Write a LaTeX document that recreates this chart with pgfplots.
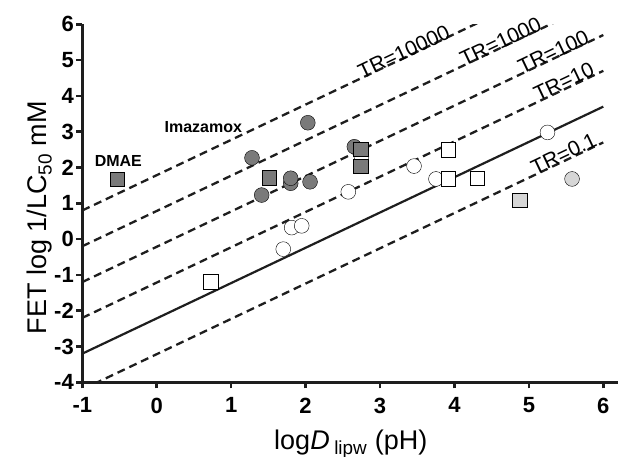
\documentclass[border=0pt]{standalone}
\usepackage{fontspec}
\setmainfont{Liberation Sans}
\usepackage{pgfplots}
\pgfplotsset{compat=1.18}
\definecolor{darkfill}{RGB}{122,122,122}
\definecolor{lightfill}{RGB}{214,214,214}
\definecolor{edge}{RGB}{30,30,30}
\begin{document}
\begin{tikzpicture}
\useasboundingbox (-82.3pt,-74.7pt) rectangle (536.7pt,382.3pt);
\begin{axis}[
  at={(0pt,0pt)}, anchor=south west,
  scale only axis, width=535.9pt, height=358pt,
  xmin=-1, xmax=6.2, ymin=-4, ymax=6,
  axis x line*=bottom, axis y line*=left,
  axis line style={line width=3pt, edge, -},
  xtick={-1,0,...,6}, ytick={-4,-3,...,6},
  tick align=outside, major tick length=6pt,
  tick style={line width=2.5pt, edge},
  /pgf/number format/assume math mode=true,
  ticklabel style={font=\bfseries\fontsize{22}{22}\selectfont},
  xticklabel style={yshift=-6pt},
  yticklabel style={xshift=1pt},
  xlabel={log\textit{D}\,\textsubscript{lipw} (pH)},
  ylabel={FET log 1/LC\textsubscript{50} mM},
  label style={font=\fontsize{27}{27}\selectfont},
  xlabel style={at={(axis description cs:0.501,0)}, anchor=base, yshift=-67pt},
  ylabel style={at={(axis description cs:-0.079,0.46)}, anchor=center},
  clip mode=individual,
  tr/.style={dash pattern=on 8pt off 5pt, line width=2.3pt, edge},
  mk/.style={only marks, mark options={line width=2.2pt, draw=edge}},
]
% regression line and TR lines
\addplot[line width=2.2pt, edge] coordinates {(-1,-3.2) (6,3.7)};
\addplot[tr] coordinates {(-1,-4.2) (6,2.7)};
\addplot[tr] coordinates {(-1,-2.2) (6,4.7)};
\addplot[tr] coordinates {(-1,-1.2) (6,5.7)};
\addplot[tr] coordinates {(-1,-0.2) (6,6.7)};
\addplot[tr] coordinates {(-1,0.8) (6,7.7)};
% open circles
\addplot[mk, mark=*, mark size=7.4pt, mark options={fill=white}] coordinates {
(2.75,2.30) (2.574,1.32) (3.457,2.04) (3.752,1.68) (1.813,0.32) (1.948,0.37) (1.70,-0.28) (5.25,2.98)};
% dark circles
\addplot[mk, mark=*, mark size=7.4pt, mark options={fill=darkfill}] coordinates {
(1.28,2.27) (1.41,1.23) (2.03,3.25) (2.655,2.58) (1.80,1.56) (1.80,1.70) (2.06,1.60)};
% light circle
\addplot[mk, mark=*, mark size=7.4pt, mark options={fill=lightfill}] coordinates {(5.58,1.68)};
% open squares
\addplot[mk, mark=square*, mark size=7.3pt, mark options={fill=white}] coordinates {
(0.725,-1.19) (3.917,2.49) (3.917,1.68) (4.307,1.70)};
% dark squares
\addplot[mk, mark=square*, mark size=7.3pt, mark options={fill=darkfill}] coordinates {
(-0.53,1.67) (1.51,1.72) (2.74,2.51) (2.74,2.04)};
% light square
\addplot[mk, mark=square*, mark size=7.3pt, mark options={fill=lightfill}] coordinates {(4.88,1.09)};
% labels
\node[font=\fontsize{21}{21}\selectfont, rotate=25.4, anchor=base, inner sep=0pt] at (axis cs:3.36,5.05) {TR=10000};
\node[font=\fontsize{21}{21}\selectfont, rotate=25.4, anchor=base, inner sep=0pt] at (axis cs:4.66,5.34) {TR=1000};
\node[font=\fontsize{21}{21}\selectfont, rotate=25.4, anchor=base, inner sep=0pt] at (axis cs:5.37,5.05) {TR=100};
\node[font=\fontsize{21}{21}\selectfont, rotate=25.4, anchor=base, inner sep=0pt] at (axis cs:5.51,4.22) {TR=10};
\node[font=\fontsize{21}{21}\selectfont, rotate=25.4, anchor=base, inner sep=0pt] at (axis cs:5.51,2.20) {TR=0.1};
\node[font=\bfseries\fontsize{16}{16}\selectfont] at (axis cs:-0.516,2.19) {DMAE};
\node[font=\bfseries\fontsize{16}{16}\selectfont] at (axis cs:0.626,3.14) {Imazamox};
\end{axis}
\end{tikzpicture}
\end{document}
